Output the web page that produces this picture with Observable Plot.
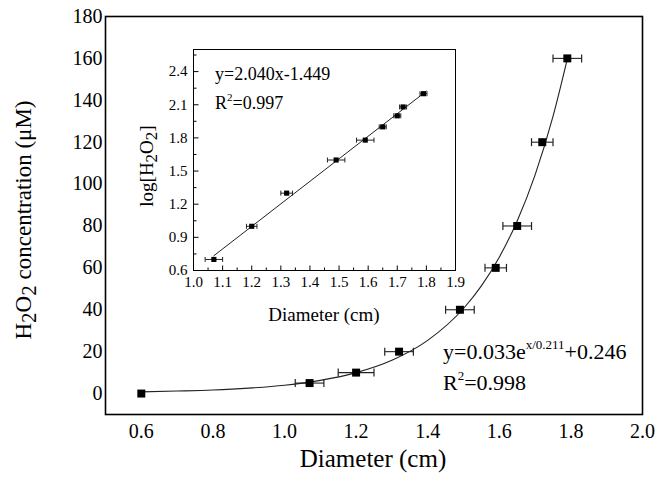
<!DOCTYPE html>
<html><head><meta charset="utf-8">
<script src="https://cdn.jsdelivr.net/npm/d3@7"></script>
<script src="https://cdn.jsdelivr.net/npm/@observablehq/plot@0.6"></script>
<style>
body{margin:0;background:#fff;}
#wrap{position:relative;width:664px;height:482px;overflow:hidden;}
#wrap svg{position:absolute;left:0;top:0;font-family:"Liberation Serif",serif !important;}
#wrap svg text{font-family:"Liberation Serif",serif !important;}
</style></head><body><div id="wrap"></div>
<script>
// ---- main chart data ----
const diameter = [0.6, 1.07, 1.20, 1.32, 1.49, 1.59, 1.65, 1.72, 1.79];
const concentration = [0, 5, 10, 20, 40, 60, 80, 120, 160];
const diameterErr = [0, 0.04, 0.05, 0.04, 0.04, 0.03, 0.04, 0.03, 0.04];
// exponential fit curve
const fitX = [0.6, 0.7, 0.8, 0.9, 1.0, 1.1, 1.2, 1.3, 1.4, 1.5, 1.55, 1.6, 1.65, 1.7, 1.75, 1.79];
const fitY = [0.8, 1.2, 1.7, 2.6, 4.0, 6.3, 10.0, 15.9, 25.4, 40.6, 51.4, 65.1, 82.4, 104.4, 132.3, 159.8];
const mainXTicks = [0.6, 0.8, 1.0, 1.2, 1.4, 1.6, 1.8, 2.0];
const mainYTicks = [0, 20, 40, 60, 80, 100, 120, 140, 160, 180];
// ---- inset data ----
const logDiameter = [1.07, 1.20, 1.32, 1.49, 1.59, 1.65, 1.70, 1.72, 1.79];
const logConc = [0.70, 1.00, 1.30, 1.60, 1.78, 1.90, 2.00, 2.08, 2.20];
const logErr = [0.03, 0.018, 0.02, 0.03, 0.03, 0.012, 0.012, 0.012, 0.012];
const linFitX = [1.07, 1.80];
const linFitY = [0.734, 2.223];
const insetXTicks = [1.0, 1.1, 1.2, 1.3, 1.4, 1.5, 1.6, 1.7, 1.8, 1.9];
const insetXMinor = [1.05, 1.15, 1.25, 1.35, 1.45, 1.55, 1.65, 1.75, 1.85];
const insetYTicks = [0.6, 0.9, 1.2, 1.5, 1.8, 2.1, 2.4];
const insetYMinor = [0.75, 1.05, 1.35, 1.65, 1.95, 2.25, 2.55];

const FONT = "Liberation Serif, serif";

const vbar = {draw(ctx, size){const h=Math.sqrt(size/Math.PI); ctx.moveTo(0,-h); ctx.lineTo(0,h);}};
const tickRight = {draw(ctx, size){const h=Math.sqrt(size/Math.PI); ctx.moveTo(0,0); ctx.lineTo(h,0);}};
const tickUp = {draw(ctx, size){const h=Math.sqrt(size/Math.PI); ctx.moveTo(0,0); ctx.lineTo(0,-h);}};

const mainPts = diameter.map((d,i)=>({x:d, y:concentration[i], e:diameterErr[i]}));
const mainErr = mainPts.filter(d=>d.e>0);
const mainCaps = mainErr.flatMap(d=>[{x:d.x-d.e,y:d.y},{x:d.x+d.e,y:d.y}]);
const fit = fitX.map((x,i)=>({x, y:fitY[i]}));

const main = Plot.plot({
  width:664, height:482,
  marginLeft:105, marginRight:22, marginTop:16, marginBottom:68,
  x:{domain:[0.5,2.0]}, y:{domain:[-10,180]},
  style:{fontFamily:FONT, background:"white", color:"black"},
  marks:[
    Plot.axisX({ticks:mainXTicks, tickSize:0, tickPadding:9, fontSize:20, label:null, tickFormat:d=>d.toFixed(1)}),
    Plot.axisY({ticks:mainYTicks, tickSize:0, tickPadding:3, fontSize:20, label:null, tickFormat:d=>String(d)}),
    Plot.line(fit, {x:"x", y:"y", curve:"monotone-x", stroke:"#222", strokeWidth:1.1}),
    Plot.link(mainErr, {x1:d=>d.x-d.e, x2:d=>d.x+d.e, y1:"y", y2:"y", stroke:"#222", strokeWidth:1.1}),
    Plot.dot(mainCaps, {x:"x", y:"y", symbol:vbar, r:4, fill:"none", stroke:"#222", strokeWidth:1.2}),
    Plot.dot(mainPts, {x:"x", y:"y", symbol:"square", r:4.5, fill:"black", stroke:"none"}),
    Plot.frame({stroke:"black", strokeWidth:1.6})
  ]
});

const insetPts = logDiameter.map((d,i)=>({x:d, y:logConc[i], e:logErr[i]}));
const insetCaps = insetPts.flatMap(d=>[{x:d.x-d.e,y:d.y},{x:d.x+d.e,y:d.y}]);
const linFit = linFitX.map((x,i)=>({x, y:linFitY[i]}));

const inset = Plot.plot({
  width:664, height:482,
  marginLeft:193, marginRight:209, marginTop:49, marginBottom:212,
  x:{domain:[1.0,1.9]}, y:{domain:[0.6,2.6]},
  style:{fontFamily:FONT, background:"transparent", color:"black"},
  marks:[
    Plot.frame({fill:"white", stroke:"none"}),
    Plot.axisX({ticks:insetXTicks, tickSize:0, tickPadding:6, fontSize:15, label:null, tickFormat:d=>d.toFixed(1)}),
    Plot.axisY({ticks:insetYTicks, tickSize:0, tickPadding:6, fontSize:15, label:null, tickFormat:d=>d.toFixed(1)}),
    Plot.dot(insetYTicks, {y:d=>d, frameAnchor:"left", symbol:tickRight, r:5, fill:"none", stroke:"black", strokeWidth:1}),
    Plot.dot(insetYMinor, {y:d=>d, frameAnchor:"left", symbol:tickRight, r:3, fill:"none", stroke:"black", strokeWidth:1}),
    Plot.dot(insetXTicks, {x:d=>d, frameAnchor:"bottom", symbol:tickUp, r:5, fill:"none", stroke:"black", strokeWidth:1}),
    Plot.dot(insetXMinor, {x:d=>d, frameAnchor:"bottom", symbol:tickUp, r:3, fill:"none", stroke:"black", strokeWidth:1}),
    Plot.line(linFit, {x:"x", y:"y", stroke:"#222", strokeWidth:1}),
    Plot.link(insetPts, {x1:d=>d.x-d.e, x2:d=>d.x+d.e, y1:"y", y2:"y", stroke:"#222", strokeWidth:1}),
    Plot.dot(insetCaps, {x:"x", y:"y", symbol:vbar, r:2.5, fill:"none", stroke:"#222", strokeWidth:1}),
    Plot.dot(insetPts, {x:"x", y:"y", symbol:"square", r:2.9, fill:"black", stroke:"none"}),
    Plot.frame({stroke:"black", strokeWidth:1})
  ]
});

const wrap = document.getElementById("wrap");
wrap.appendChild(main);
wrap.appendChild(inset);

function txt(svg, x, y, size, opts={}){
  const t = d3.select(svg).append("text")
    .attr("font-family", FONT).attr("font-size", size).attr("fill","black");
  if (opts.rotate) t.attr("transform", `translate(${x},${y}) rotate(-90)`);
  else t.attr("x", x).attr("y", y);
  t.attr("text-anchor", opts.anchor || "start");
  return t;
}
// main axis titles
txt(main, 373, 467, 25, {anchor:"middle"}).text("Diameter (cm)");
{
  const t = txt(main, 31, 220, 23, {rotate:true, anchor:"middle"});
  t.append("tspan").text("H");
  t.append("tspan").attr("dy",5).attr("font-size",21).text("2");
  t.append("tspan").attr("dy",-5).text("O");
  t.append("tspan").attr("dy",5).attr("font-size",21).text("2");
  t.append("tspan").attr("dy",-5).text(" concentration (μM)");
}
// main equation
{
  const t = txt(main, 443, 359, 22);
  t.append("tspan").text("y=0.033e");
  t.append("tspan").attr("dy",-10).attr("font-size",13).text("x/0.211");
  t.append("tspan").attr("dy",10).text("+0.246");
  const r = txt(main, 443, 390, 22);
  r.append("tspan").text("R");
  r.append("tspan").attr("dy",-10).attr("font-size",13).text("2");
  r.append("tspan").attr("dy",10).text("=0.998");
}
// inset titles
txt(inset, 324, 321, 19, {anchor:"middle"}).text("Diameter (cm)");
{
  const t = txt(inset, 153, 166, 19, {rotate:true, anchor:"middle"});
  t.append("tspan").text("log[H");
  t.append("tspan").attr("dy",4).attr("font-size",17).text("2");
  t.append("tspan").attr("dy",-4).text("O");
  t.append("tspan").attr("dy",4).attr("font-size",17).text("2");
  t.append("tspan").attr("dy",-4).text("]");
}
{
  const t = txt(inset, 215, 80, 18);
  t.text("y=2.040x-1.449");
  const r = txt(inset, 215, 109, 18);
  r.append("tspan").text("R");
  r.append("tspan").attr("dy",-8).attr("font-size",11).text("2");
  r.append("tspan").attr("dy",8).text("=0.997");
}
</script></body></html>
